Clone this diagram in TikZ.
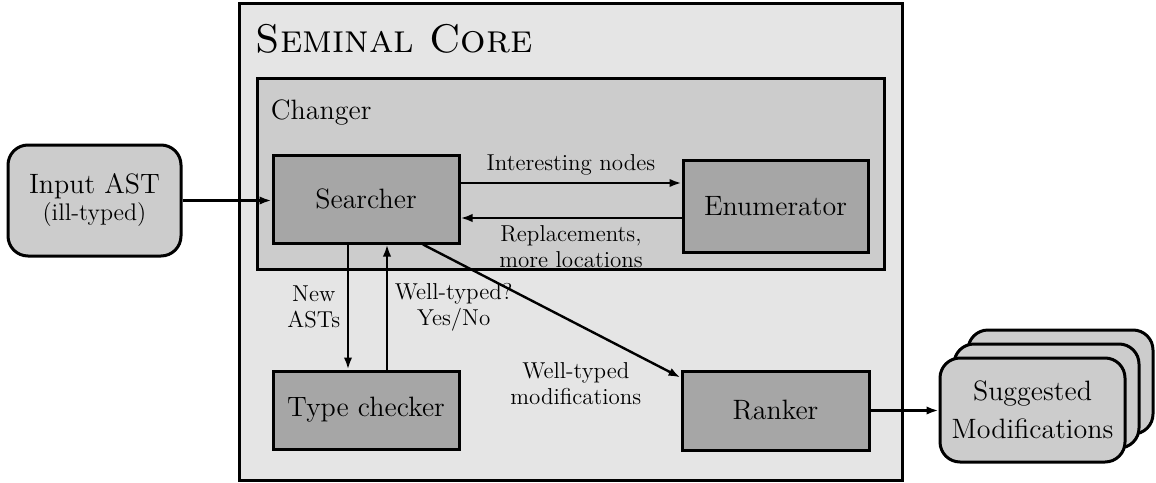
\documentclass[tikz,border=0pt]{standalone}
\usetikzlibrary{calc,positioning,arrows.meta}

\tikzset{
  corebox/.style={draw, line width=1.5pt, fill=black!10, inner sep=0pt},
  groupbox/.style={draw, line width=1.5pt, fill=black!20, inner sep=0pt},
  unit/.style={draw, line width=1.5pt, fill=black!35, inner sep=0pt,
    font=\fontsize{14}{19}\selectfont},
  ioblock/.style={draw, line width=1.5pt, fill=black!20, rounded corners=10pt,
    inner sep=0pt, align=center, font=\fontsize{14}{19}\selectfont},
  flow/.style={line width=1.2pt, -{Latex[length=6pt,width=4.2pt]}},
  note/.style={font=\fontsize{11.5}{13}\selectfont, align=center},
}

\begin{document}
\begin{tikzpicture}[x=0.5pt,y=-0.5pt]
    \useasboundingbox (0,0) rectangle (1156,482);

    % Containers
    \node[corebox, minimum width=331.5pt, minimum height=238.5pt] (core) at (570.5,241.5) {};
    \node[anchor=base west, inner sep=0pt, font=\fontsize{20}{24}\selectfont] (coretitle)
        at ([shift={(18,51)}]core.north west) {\textsc{Seminal Core}};
    \node[groupbox, minimum width=313.5pt, minimum height=95.5pt] (changer) at (570.5,173.5) {};
    \node[anchor=base west, inner sep=0pt, font=\fontsize{14}{19}\selectfont] (changertitle)
        at ([shift={(15,43)}]changer.north west) {Changer};

    % Processing units
    \node[unit, minimum width=93pt, minimum height=44pt] (searcher) at (366,199) {Searcher};
    \node[unit, minimum width=92.5pt, minimum height=46pt] (enumerator) at (775.5,206) {Enumerator};
    \node[unit, minimum width=93pt, minimum height=39pt] (typechecker) at (366,410) {Type checker};
    \node[unit, minimum width=93.5pt, minimum height=39.5pt] (ranker) at (775.5,410.5) {Ranker};

    % Input and output
    \node[ioblock, minimum width=86.5pt, minimum height=55.5pt, font=\fontsize{14}{13.5}\selectfont]
        (input) at (94.5,200.5) {Input AST\\\fontsize{12}{13.5}\selectfont(ill-typed)};
    \foreach \k in {2,1} {
        \node[ioblock, minimum width=92.5pt, minimum height=52pt] (sug\k)
            at ($(1032.5,410)+(\k*14,-\k*14)$) {};
    }
    \node[ioblock, minimum width=92.5pt, minimum height=52pt] (sug) at (1032.5,410)
        {Suggested\\Modifications};

    % Anchor points for the paired arrows
    \coordinate (toenum) at ([yshift=8pt]searcher.east);
    \coordinate (fromenum) at ([yshift=-6pt]enumerator.west);
    \coordinate (tocheck) at ([xshift=-9pt]searcher.south);
    \coordinate (fromcheck) at ([xshift=10.5pt]typechecker.north);

    % Data flow
    \draw[flow] (input.east) -- (input.east -| searcher.west);
    \draw[flow] (toenum) -- (toenum -| enumerator.west)
        node[note, midway, above] {Interesting nodes};
    \draw[flow] (fromenum) -- (fromenum -| searcher.east)
        node[note, midway, below] {Replacements,\\more locations};
    \draw[flow] (tocheck) -- (tocheck |- typechecker.north)
        node[note, midway, left] {New\\ASTs};
    \draw[flow] (fromcheck) -- (fromcheck |- searcher.south)
        node[note, midway, right] {Well-typed?\\Yes/No};
    \draw[flow] ([xshift=28.5pt]searcher.south) -- ([yshift=-4pt]ranker.north west)
        node[note, pos=0.86, anchor=north east, inner sep=1pt] {Well-typed\\modifications};
    \draw[flow] (ranker.east) -- (ranker.east -| sug.west);
\end{tikzpicture}
\end{document}
